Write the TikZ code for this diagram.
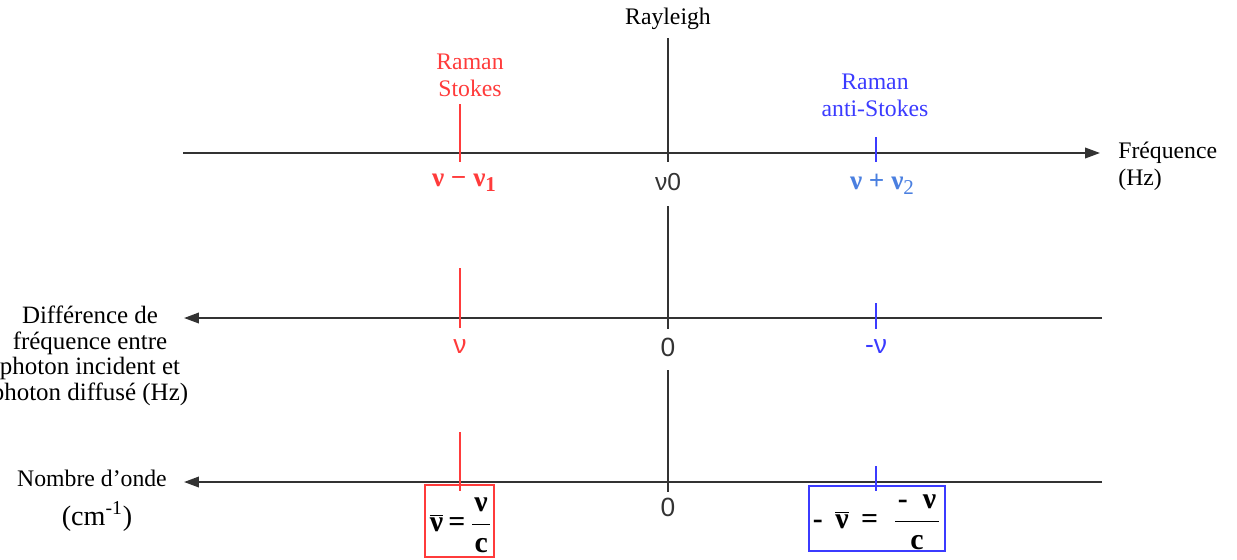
\documentclass[tikz,border=0pt]{standalone}
\usepackage{fontspec}
\setmainfont{Liberation Serif}
\newfontfamily\sansf{Liberation Sans}
\usetikzlibrary{arrows.meta}
\definecolor{rred}{HTML}{FF3B3B}
\definecolor{rblue}{HTML}{3B3BFF}
\definecolor{lblue}{HTML}{4A7FE0}
\definecolor{axgray}{HTML}{333333}
\begin{document}
\begin{tikzpicture}[x=0.02cm,y=-0.02cm,
  font=\fontsize{13.5}{15.5}\selectfont,
  axis/.style={draw=axgray, line width=1.1pt},
  arr/.style={-{Triangle[length=8.5pt,width=6pt]}},
  vblack/.style={draw=axgray, line width=1.1pt},
  vred/.style={draw=rred, line width=0.9pt},
  vblue/.style={draw=rblue, line width=0.9pt},
  lbl/.style={inner sep=0pt, align=center},
  eq/.style={inner sep=0pt, font=\fontsize{17}{19}\selectfont\bfseries},
  boxr/.style={draw=rred, line width=0.8pt, inner sep=0pt},
  boxb/.style={draw=rblue, line width=0.8pt, inner sep=0pt}]
\useasboundingbox (0,0) rectangle (1237,559);
% axes
\coordinate (a1s) at (183,153); \coordinate (a1e) at (1100,153);
\coordinate (a2s) at (1102,318); \coordinate (a2e) at (184,318);
\coordinate (a3s) at (1102,482); \coordinate (a3e) at (184,482);
\draw[axis,arr] (a1s) -- (a1e);
\draw[axis,arr] (a2s) -- (a2e);
\draw[axis,arr] (a3s) -- (a3e);
% vertical lines
\coordinate (k1a) at (668,38);  \coordinate (k1b) at (668,162);
\coordinate (k2a) at (668,206); \coordinate (k2b) at (668,329);
\coordinate (k3a) at (668,370); \coordinate (k3b) at (668,492);
\draw[vblack] (k1a) -- (k1b); \draw[vblack] (k2a) -- (k2b); \draw[vblack] (k3a) -- (k3b);
\coordinate (r1a) at (460,104); \coordinate (r1b) at (460,162);
\coordinate (r2a) at (460,268); \coordinate (r2b) at (460,328);
\coordinate (r3a) at (460,432); \coordinate (r3b) at (460,491);
\draw[vred] (r1a) -- (r1b); \draw[vred] (r2a) -- (r2b); \draw[vred] (r3a) -- (r3b);
\coordinate (b1a) at (876,137); \coordinate (b1b) at (876,162);
\coordinate (b2a) at (876,303); \coordinate (b2b) at (876,329);
\coordinate (b3a) at (876,466); \coordinate (b3b) at (876,491);
\draw[vblue] (b1a) -- (b1b); \draw[vblue] (b2a) -- (b2b); \draw[vblue] (b3a) -- (b3b);
% top labels
\node[lbl] (ray) at (668,19) {Rayleigh};
\node[lbl, text=rred] (stokes) at (470,75) {Raman\\Stokes};
\node[lbl, text=rblue] (astokes) at (875,95) {Raman\\anti-Stokes};
\node[lbl, text=rred, font=\fontsize{15.5}{17}\selectfont\bfseries] (f1) at (464,183) {ν − ν\raisebox{-0.4ex}{\fontsize{12}{14}\selectfont 1}};
\node[lbl, text=axgray, font=\sansf\fontsize{14}{16}\selectfont] (f0) at (668,182) {ν0};
\node[lbl, text=lblue, font=\fontsize{15.5}{17}\selectfont\bfseries] (f2) at (882,184) {ν + ν\raisebox{-0.4ex}{\fontsize{12}{14}\selectfont\mdseries 2}};
\node[lbl, anchor=west, align=left] (freq) at (1118,166) {Fréquence\\(Hz)};
% middle labels
\node[lbl, text=rred, font=\sansf\fontsize{15}{17}\selectfont] (d1) at (460,347) {ν};
\node[lbl, text=axgray, font=\sansf\fontsize{15}{17}\selectfont] (d0) at (668,347) {0};
\node[lbl, text=rblue, font=\sansf\fontsize{15}{17}\selectfont] (d2) at (876,347) {-ν};
\node[lbl, font=\fontsize{14.2}{14.6}\selectfont] (diff) at (90,356) {Différence de\\fréquence entre\\photon incident et\\photon diffusé (Hz)};
% bottom labels
\node[lbl] (nomb) at (92,478) {Nombre d’onde};
\node[lbl, font=\fontsize{16}{18}\selectfont] (cm) at (97,516) {(cm\textsuperscript{-1})};
\node[lbl, text=axgray, font=\sansf\fontsize{15}{17}\selectfont] (w0) at (668,507) {0};
\node[boxr, minimum width=69*0.02cm, minimum height=72*0.02cm] (wr) at (459.5,521) {};
\node[eq] (wrt) at (461,525) {$\overline{\hbox{ν}}$\,=\,$\displaystyle\frac{\hbox to 10pt{\hfil ν\hfil}}{\hbox{c}}$};
\node[boxb, minimum width=136*0.02cm, minimum height=65*0.02cm] (wb) at (877,518.5) {};
\node[eq] (wbt) at (877,522) {-\ \,$\overline{\hbox{ν}}$\ \,=\ \ $\displaystyle\frac{\hbox to 25pt{\hfil -\ \ ν\hfil}}{\hbox{c}}$};
\end{tikzpicture}
\end{document}
